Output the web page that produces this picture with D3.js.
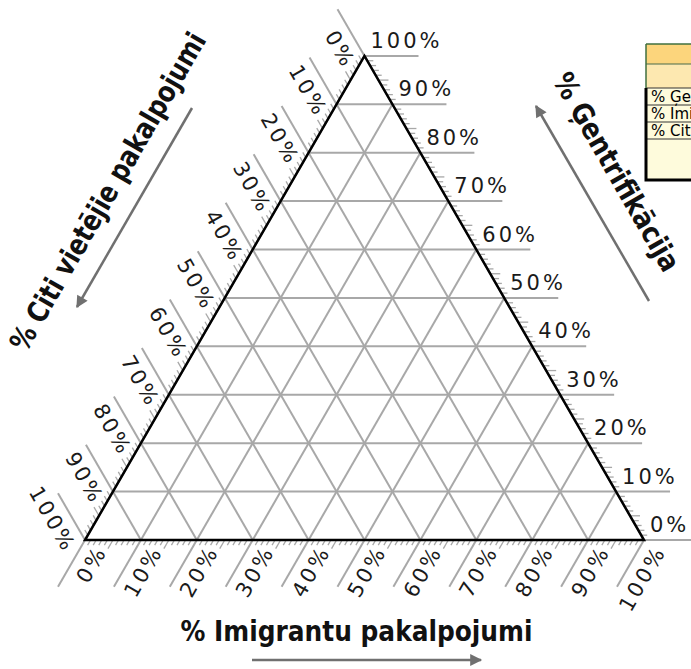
<!DOCTYPE html>
<html><head><meta charset="utf-8">
<script src="https://cdn.jsdelivr.net/npm/d3@7"></script>
<style>
html,body{margin:0;padding:0;background:#fff;overflow:hidden}
svg{display:block}
</style></head><body>
<svg id="chart" width="691" height="669"></svg>
<script>
// Component names for the three sides of the ternary diagram
const axisTop = "% Ģentrifikācija";
const axisBottom = "% Imigrantu pakalpojumi";
const axisLeft = "% Citi vietējie pakalpojumi";
// Major tick values, in percent
const majorTicks = [0, 10, 20, 30, 40, 50, 60, 70, 80, 90, 100];
// Legend table rows
const tableRows = ["% Ģentrifikācija", "% Imigrantu pakalpojumi", "% Citi vietējie pakalpojumi"];

const minorTicks = d3.range(1, 100).filter(v => v % 10 !== 0);

const svg = d3.select("#chart");
const left = 85, right = 644, base = 540;
const side = right - left;
const S3 = Math.sqrt(3) / 2;
const h = side * S3;

// Ternary -> screen: g = Ģentrifikācija (top), m = Imigrantu (bottom-right), rest = Citi (bottom-left)
const xs = d3.scaleLinear().domain([0, 100]).range([left, right]);
const ys = d3.scaleLinear().domain([0, 100]).range([base, base - h]);
const P = (g, m) => [xs(m + g / 2), ys(g)];
const add = (p, d, k) => [p[0] + d[0] * k, p[1] + d[1] * k];

const dirG = [1, 0];          // outward from right side
const dirC = [-0.5, -S3];     // outward from left side
const dirM = [-0.5, S3];      // outward from bottom side
const EXT = 54;
const gridColor = "#a8a8a8";
const line = d3.line();

// Grid lines with their extensions past the triangle
const gGrid = svg.append("g").attr("stroke", gridColor).attr("stroke-width", 2).attr("fill", "none");
majorTicks.forEach(k => {
  const a = P(k, 0), b = P(k, 100 - k);
  gGrid.append("path").attr("d", line([a, add(b, dirG, EXT)]));
  const c1 = P(100 - k, 0), c2 = P(0, 100 - k);
  gGrid.append("path").attr("d", line([c2, add(c1, dirC, EXT)]));
  const m1 = P(0, k), m2 = P(100 - k, k);
  gGrid.append("path").attr("d", line([m2, add(m1, dirM, EXT)]));
});

// Minor ticks every 1 %, longer at 5 %
const gTicks = svg.append("g").attr("stroke", gridColor).attr("stroke-width", 1.3);
minorTicks.forEach(k => {
  const len = k % 5 === 0 ? 10 : 6;
  const r = P(k, 100 - k);
  gTicks.append("path").attr("d", line([r, add(r, dirG, len)]));
  const l = P(100 - k, 0);
  gTicks.append("path").attr("d", line([l, add(l, dirC, len)]));
  const b = P(0, k);
  gTicks.append("path").attr("d", line([b, add(b, dirM, len)]));
});

// Triangle outline
svg.append("path")
  .attr("d", line([P(100, 0), P(0, 0), P(0, 100)]) + "Z")
  .attr("fill", "none").attr("stroke", "#000").attr("stroke-width", 2.5)
  .attr("stroke-linejoin", "miter");

// Tick labels
const lab = svg.append("g")
  .attr("font-family", "'DejaVu Sans', Verdana, sans-serif")
  .attr("font-size", 21).attr("fill", "#1a1a1a")
  .style("letter-spacing", "3px");

const u = [0.5, S3], nL = [-S3, 0.5];     // left side: reading dir, text-down dir
const v = [0.5, -S3], nB = [S3, 0.5];     // bottom side
const OFF = 25;

majorTicks.forEach(k => {
  // right side (Ģentrifikācija)
  const r = P(k, 100 - k);
  lab.append("text").attr("x", r[0] + 6).attr("y", r[1] - 8).text(k + "%");
  // left side (Citi)
  const l = add(add(P(100 - k, 0), u, 2), nL, OFF);
  lab.append("text").attr("text-anchor", "end")
    .attr("transform", `translate(${l[0]},${l[1]}) rotate(60)`).text(k + "%");
  // bottom side (Imigrantu)
  const b = add(add(P(0, k), v, 2), nB, OFF);
  lab.append("text").attr("text-anchor", "end")
    .attr("transform", `translate(${b[0]},${b[1]}) rotate(-60)`).text(k + "%");
});

// Axis titles
const titleFont = "'Liberation Sans Narrow','DejaVu Sans Condensed','Roboto Condensed',Roboto,sans-serif";
function title(txt, x, y, rot, len) {
  svg.append("text")
    .attr("transform", `translate(${x},${y}) rotate(${rot})`)
    .attr("text-anchor", "middle")
    .attr("font-family", titleFont).attr("font-weight", "bold").attr("font-size", 29)
    .attr("fill", "#111")
    .attr("textLength", len).attr("lengthAdjust", "spacingAndGlyphs")
    .text(txt);
}
title(axisBottom, 356.5, 641, 0, 352);
title(axisLeft, 116.5, 196.5, -60, 362);
title(axisTop, 608, 177, 60, 224);

// Direction arrows
const defs = svg.append("defs");
defs.append("marker").attr("id", "head")
  .attr("viewBox", "0 0 10 10").attr("refX", 9).attr("refY", 5)
  .attr("markerUnits", "userSpaceOnUse").attr("markerWidth", 14).attr("markerHeight", 12)
  .attr("orient", "auto")
  .append("path").attr("d", "M0,0L10,5L0,10Z").attr("fill", "#707070");
const arrows = [
  [[252, 660], [481, 660]],
  [[192, 108], [77, 307]],
  [[649, 301], [536, 106]]
];
arrows.forEach(a => {
  svg.append("path").attr("d", line(a))
    .attr("stroke", "#707070").attr("stroke-width", 2.5).attr("fill", "none")
    .attr("marker-end", "url(#head)");
});

// Legend table (runs past the right edge of the page)
const tx = 646;
const tb = svg.append("g");
tb.append("rect").attr("x", tx).attr("y", 44).attr("width", 80).attr("height", 20).attr("fill", "#fcd57c");
tb.append("rect").attr("x", tx).attr("y", 64).attr("width", 80).attr("height", 24).attr("fill", "#fde8b0");
tb.append("rect").attr("x", tx).attr("y", 88).attr("width", 80).attr("height", 92).attr("fill", "#fefbdc");
tb.append("line").attr("x1", tx).attr("x2", 700).attr("y1", 44).attr("y2", 44).attr("stroke", "#3f6f3f").attr("stroke-width", 1.5);
tb.append("line").attr("x1", tx).attr("x2", 700).attr("y1", 64).attr("y2", 64).attr("stroke", "#4a6a4a").attr("stroke-width", 1);
const rowY = [88, 105, 122, 139];
rowY.forEach(y => tb.append("line").attr("x1", tx).attr("x2", 700).attr("y1", y).attr("y2", y)
  .attr("stroke", "#333").attr("stroke-width", 1));
tableRows.forEach((t, i) => tb.append("text").attr("x", tx + 5).attr("y", rowY[i] + 14)
  .attr("font-family", "Verdana,'DejaVu Sans',sans-serif").attr("font-size", 15).attr("fill", "#000").text(t));
tb.append("line").attr("x1", tx).attr("x2", tx).attr("y1", 44).attr("y2", 88).attr("stroke", "#3f6f3f").attr("stroke-width", 1.5);
tb.append("path").attr("d", `M${tx},88V180H700`).attr("stroke", "#000").attr("stroke-width", 3).attr("fill", "none");
</script>
</body></html>
